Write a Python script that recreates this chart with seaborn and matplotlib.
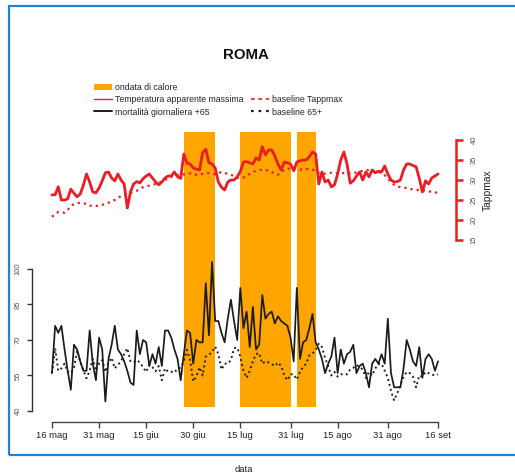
import numpy as np
import pandas as pd
import matplotlib
matplotlib.use("Agg")
import matplotlib.pyplot as plt
import matplotlib.dates as mdates
from matplotlib.ticker import NullLocator
from matplotlib.lines import Line2D
from matplotlib.patches import Patch, Rectangle
import seaborn as sns

# ---------------- data ----------------
start_date = "2003-05-16"
end_date = "2003-09-16"

temp_max = [26.3, 26.3, 28.3, 25, 25, 25.3, 27.7, 26.7, 25.8, 26.5,
            28.7, 31.5, 29.5, 27, 26.8, 28, 29.8, 31.8, 32, 30.5,
            29.8, 31.5, 30, 29, 23, 27, 29, 29.6, 29.3, 30.3,
            31, 31.5, 30.5, 29.5, 28.8, 29.5, 30.5, 31, 31, 32,
            30.8, 30.4, 36.5, 34.2, 34, 33, 32.7, 32.5, 36.8, 37.7,
            34.3, 34, 33, 29.5, 28.2, 27.5, 29.5, 30, 30, 30.8,
            32.1, 34.5, 34.6, 34.3, 34, 35.5, 35, 38.3, 36.3, 37.5,
            37.5, 36, 34, 32.5, 34.5, 34.3, 34, 32.3, 34.5, 34.8,
            35, 35, 35.8, 37, 36.5, 29, 32, 29.5, 30, 28.3,
            28.8, 31.5, 35, 37, 34, 29.2, 29.8, 31, 32, 30,
            32, 30.8, 32.5, 31.8, 32.2, 32, 33.5, 31.5, 30, 29.5,
            29.6, 30, 32.5, 34, 34, 33.6, 33.3, 30.5, 27, 29.8,
            29, 30.5, 31, 31.5]

temp_base = [20.8, 21.5, 22, 22, 21.8, 22.5, 23.5, 24, 24.2, 24.3,
             24.2, 24, 23.6, 23.5, 23.5, 23.6, 23.8, 24, 24.3, 24.8,
             25, 25.5, 26, 26.3, 26.5, 26.8, 27, 27.3, 27.8, 28.2,
             28.4, 28.6, 28.8, 29, 29.3, 29.6, 30, 30.4, 30.8, 31,
             31.2, 31.3, 31.4, 31.5, 31.7, 31.5, 31.3, 31.4, 31.5, 31.6,
             31.7, 31.6, 31.4, 31.7, 32, 31.8, 31.5, 31.3, 31, 30.6,
             30.4, 30.6, 31, 31.5, 32, 32.3, 32.5, 32.6, 32.5, 32.3,
             32, 31.6, 31.3, 31.8, 32.6, 32.8, 32.9, 32.9, 32.8, 32.6,
             32.6, 32.7, 32.8, 32.6, 32.3, 31.7, 31.5, 31.6, 31.7, 31.8,
             31.7, 31.7, 31.8, 31.7, 31.6, 31.6, 31.7, 31.9, 32.1, 32.3,
             32.4, 32.5, 32.3, 32.1, 32, 31.8, 31.2, 30.3, 29.5, 28.8,
             28.4, 28.2, 28.1, 28, 27.8, 27.6, 27.5, 27.5, 27.4, 27.4,
             27.2, 27, 26.9, 26.8]

mortality = [56, 76, 73, 76, 66, 57, 49, 68, 66, 61,
             57, 57, 74, 60, 53, 71, 66, 44, 62, 68,
             76, 66, 64, 61, 57, 52, 51, 74, 64, 70,
             69, 59, 64, 60, 67, 59, 74, 74, 71, 66,
             62, 53, 64, 74, 73, 60, 70, 69, 69, 94,
             72, 103, 78, 78, 73, 69, 79, 87, 78, 70,
             92, 75, 82, 67, 84, 66, 68, 89, 79, 81,
             82, 77, 80, 78, 77, 76, 71, 61, 92, 62,
             69, 70, 75, 81, 69, 66, 62, 56, 60, 63,
             71, 56, 66, 60, 64, 65, 68, 56, 59, 60,
             56, 50, 60, 62, 60, 64, 60, 79, 56, 50,
             50, 50, 58, 70, 66, 61, 59, 67, 54, 62,
             64, 62, 57, 61]

mort_base = [56, 66.5, 57, 58, 60, 56.5, 56, 58, 65.5, 60.8,
             57.3, 53.8, 57, 62, 57, 60, 61.5, 56.5, 60.5, 62.5,
             58, 59.5, 61, 64, 66.5, 61, 60.5, 61.5, 60.5, 58.5,
             56.5, 59.5, 58.5, 56.8, 59, 53, 58, 56.6, 56.6, 56.2,
             58, 58.3, 61, 65.8, 61.5, 52.5, 54.5, 58.5, 55, 63,
             63.7, 65, 67.2, 64, 57.5, 60, 60, 61.5, 66.5, 66.8,
             63, 57, 54, 57, 61, 64, 64.5, 60, 61, 60.5,
             59.8, 59, 60.5, 59, 55, 53, 55.5, 55.5, 53.3, 56.5,
             58.7, 60, 63.5, 64.3, 65.8, 68.5, 67, 62.5, 58.8, 55,
             56.5, 54.5, 55.5, 55.5, 55.5, 57.5, 58.2, 59.4, 58.7, 57.5,
             54, 56.5, 55, 58, 59.8, 60, 57, 54, 48.5, 44.5,
             47.5, 51, 54.5, 56.5, 56, 54.5, 50, 55, 54.5, 56.5,
             56, 55.3, 55.2, 55.5]

heatwave_start = ["2003-06-27", "2003-07-15", "2003-08-02"]
heatwave_end = ["2003-07-07", "2003-07-31", "2003-08-08"]

tick_dates = ["2003-05-16", "2003-05-31", "2003-06-15", "2003-06-30", "2003-07-15",
              "2003-07-31", "2003-08-15", "2003-08-31", "2003-09-16"]
tick_labels = ["16 mag", "31 mag", "15 giu", "30 giu", "15 lug",
               "31 lug", "15 ago", "31 ago", "16 set"]

mort_ticks = [40, 55, 70, 85, 100]
temp_ticks = [15, 20, 25, 30, 35, 40]

title = "ROMA"
legend_labels = ["ondata di calore", "Temperatura apparente massima",
                 "mortalità giornaliera +65", "", "baseline Tappmax", "baseline 65+"]

# ---------------- style ----------------
sns.set_style("white")
plt.rcParams["font.family"] = ["Liberation Sans", "DejaVu Sans"]

W, H = 515, 475
fig = plt.figure(figsize=(W / 100, H / 100), dpi=100)
fig.patch.set_facecolor("white")

def fx(px):
    return px / W

def fy(py):
    return 1 - py / H

ax_left, ax_right, ax_top, ax_bottom = 40, 450, 128, 422
ax = fig.add_axes([fx(ax_left), fy(ax_bottom), fx(ax_right - ax_left), (ax_bottom - ax_top) / H])
ax2 = ax.twinx()

dates = pd.date_range(start_date, end_date, freq="D")
df = pd.DataFrame({"date": dates, "temp": temp_max, "tbase": temp_base,
                   "mort": mortality, "mbase": mort_base})

RED = "#ec1c24"
BLACK = "#1c1c1c"
ORANGE = "#ffa500"

# heat-wave bands
for s, e in zip(heatwave_start, heatwave_end):
    ax.axvspan(pd.Timestamp(s), pd.Timestamp(e), ymin=0.051, ymax=0.986,
               color=ORANGE, lw=0, zorder=0)

sns.lineplot(data=df, x="date", y="mbase", ax=ax, color="#222222", linewidth=1.4,
             linestyle=(0, (1, 1.6)), zorder=2)
sns.lineplot(data=df, x="date", y="mort", ax=ax, color=BLACK, linewidth=1.25, zorder=3)
sns.lineplot(data=df, x="date", y="tbase", ax=ax2, color=RED, linewidth=1.6,
             linestyle=(0, (1, 1.8)), zorder=2)
sns.lineplot(data=df, x="date", y="temp", ax=ax2, color=RED, linewidth=2.0, zorder=3)

# limits (pixel-matched)
d0 = mdates.date2num(pd.Timestamp(start_date))
ax.set_xlim(d0 - 3.82, d0 + 126.8)
ax.set_ylim(35.35, 159.57)
ax2.set_ylim(-30.5, 43)

for a in (ax, ax2):
    a.set_xlabel("")
    a.set_ylabel("")
    a.grid(False)
    for sp in a.spines.values():
        sp.set_visible(False)
    a.xaxis.set_minor_locator(NullLocator())
    a.yaxis.set_minor_locator(NullLocator())

# left axis (mortality)
ax.spines["left"].set_visible(True)
ax.spines["left"].set_position(("outward", 5.8))
ax.spines["left"].set_bounds(40, 100)
ax.spines["left"].set_color("#333333")
ax.spines["left"].set_linewidth(1.0)
ax.set_yticks(mort_ticks)
ax.set_yticklabels([str(t) for t in mort_ticks])
ax.tick_params(axis="y", direction="out", length=3.6, width=1.0, color="#333333",
               labelsize=5.4, labelcolor="#555555", pad=4, labelrotation=90, left=True)
for lab in ax.get_yticklabels():
    lab.set_va("center")

# bottom axis (dates)
ax.spines["bottom"].set_visible(True)
ax.spines["bottom"].set_bounds(mdates.date2num(pd.Timestamp(tick_dates[0])),
                               mdates.date2num(pd.Timestamp(tick_dates[-1])))
ax.spines["bottom"].set_color("#444444")
ax.spines["bottom"].set_linewidth(1.0)
ax.set_xticks([pd.Timestamp(d) for d in tick_dates])
ax.set_xticklabels(tick_labels)
ax.xaxis.set_minor_locator(NullLocator())
ax.tick_params(axis="x", which="minor", bottom=False, top=False)
ax2.tick_params(axis="x", which="both", bottom=False, top=False)
ax.tick_params(axis="x", direction="out", length=4.3, width=1.0, color="#444444",
               labelsize=6.8, labelcolor="#222222", pad=2.5, bottom=True)

# right axis (temperature)
ax2.spines["right"].set_visible(True)
ax2.spines["right"].set_position(("outward", 4.3))
ax2.spines["right"].set_bounds(15, 40)
ax2.spines["right"].set_color(RED)
ax2.spines["right"].set_linewidth(1.8)
ax2.set_yticks(temp_ticks)
ax2.set_yticklabels([str(t) for t in temp_ticks])
ax2.tick_params(axis="y", direction="out", length=5.0, width=1.8, color=RED,
                labelsize=5.4, labelcolor="#555555", pad=5.5, labelrotation=90, right=True)
for lab in ax2.get_yticklabels():
    lab.set_va("center")

# texts
fig.text(fx(246), fy(55), title, ha="center", va="center", fontsize=10.8, fontweight="bold",
         color="#111111")
fig.text(fx(244), fy(469), "data", ha="center", va="center", fontsize=6.8, color="#222222")
fig.text(fx(488), fy(190), "Tappmax", ha="center", va="center", rotation=90, fontsize=7.4,
         color="#222222")

# legend
handles = [Patch(facecolor=ORANGE, edgecolor="none"),
           Line2D([], [], color=RED, lw=1.0),
           Line2D([], [], color=BLACK, lw=1.4),
           Line2D([], [], color="none"),
           Line2D([], [], color=RED, lw=1.2, linestyle=(0, (2.2, 2.2))),
           Line2D([], [], color=BLACK, lw=1.6, linestyle=(0, (1.2, 2.2)))]
fig.legend(handles, legend_labels, loc="upper left", bbox_to_anchor=(fx(94), fy(83)),
           ncol=2, frameon=False, fontsize=6.3, handlelength=2.0, handleheight=0.8,
           handletextpad=0.4, columnspacing=0.9, labelspacing=0.38, borderpad=0,
           borderaxespad=0)

# blue frame
fig.patches.append(Rectangle((fx(9), fy(455)), 1.2, (455 - 5.5) / H, transform=fig.transFigure,
                             fill=False, edgecolor="#2a7fd4", linewidth=1.6))

fig.savefig("out.png", dpi=100, facecolor="white")
